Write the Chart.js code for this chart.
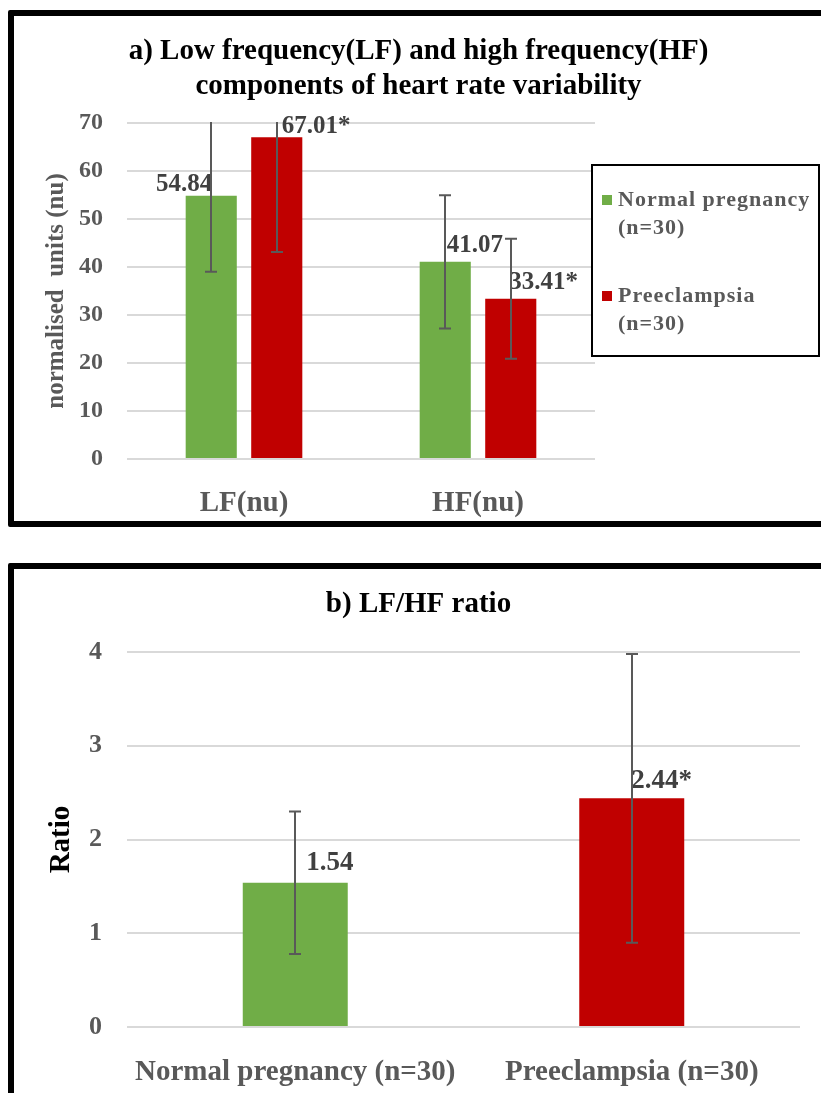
<!DOCTYPE html>
<html>
<head>
<meta charset="utf-8">
<script src="https://cdn.jsdelivr.net/npm/chart.js@4.4.1/dist/chart.umd.min.js"></script>
<style>
  html, body { margin: 0; padding: 0; background: #fff; }
  #page { position: relative; width: 821px; height: 1093px; overflow: hidden; background: #fff; }
  canvas { position: absolute; left: 0; }
  .frame { position: absolute; box-sizing: border-box; border: 6px solid #000; border-radius: 2px; pointer-events: none; }
</style>
</head>
<body>
<div id="page">
  <canvas id="chartA" width="821" height="540" style="top:0px"></canvas>
  <canvas id="chartB" width="821" height="553" style="top:540px"></canvas>
  <div class="frame" style="left:8px; top:10px; width:900px; height:517px;"></div>
  <div class="frame" style="left:8px; top:563px; width:900px; height:600px;"></div>
</div>
<script>
// ---------- data ----------
const titleA = ['a) Low frequency(LF) and high frequency(HF)', 'components of heart rate variability'];
const categoriesA = ['LF(nu)', 'HF(nu)'];
const seriesNames = ['Normal pregnancy (n=30)', 'Preeclampsia (n=30)'];
const normalMeans = [54.84, 41.07];
const normalSD = [15.84, 13.9];
const normalMarks = ['', ''];
const preMeans = [67.01, 33.41];
const preSD = [23.9, 12.5];
const preMarks = ['*', '*'];
const ticksA = [0, 10, 20, 30, 40, 50, 60, 70];
const yTitleA = 'normalised  units (nu)';

const titleB = 'b) LF/HF ratio';
const categoriesB = ['Normal pregnancy (n=30)', 'Preeclampsia (n=30)'];
const ratioMeans = [1.54, 2.44];
const ratioSD = [0.76, 1.54];
const ratioMarks = ['', '*'];
const ticksB = [0, 1, 2, 3, 4];
const yTitleB = 'Ratio';

// ---------- styles ----------
const SERIF = "'Liberation Serif', 'Times New Roman', serif";
const GRAY = '#595959';
const GREEN = '#70ad47';
const RED = '#c00000';
const GRID = '#d9d9d9';
const LABEL = '#404040';

// label placement (style only): offsets from bar top-centre
const labelPosA = [
  [{dx: 1, dy: -11, align: 'right'}, {dx: 1.5, dy: -16, align: 'left'}],
  [{dx: 5, dy: -11, align: 'left'}, {dx: -1.5, dy: -16.5, align: 'left'}]
];
const labelPosB = [[{dx: 11, dy: -20, align: 'left'}, {dx: -0.5, dy: -17, align: 'left'}]];

const barAnnotations = {
  id: 'barAnnotations',
  afterDatasetsDraw(chart, args, opts) {
    const ctx = chart.ctx;
    const ys = chart.scales.y;
    const area = chart.chartArea;
    // value labels
    chart.data.datasets.forEach((ds, i) => {
      const meta = chart.getDatasetMeta(i);
      meta.data.forEach((bar, j) => {
        const p = ds.labelPos[j];
        ctx.save();
        ctx.font = 'bold ' + opts.labelSize + 'px ' + SERIF;
        ctx.fillStyle = LABEL;
        ctx.textAlign = p.align;
        ctx.textBaseline = 'middle';
        ctx.fillText(ds.data[j].toFixed(2) + ds.marks[j], bar.x + p.dx, bar.y + p.dy);
        ctx.restore();
      });
    });
    // error bars
    ctx.save();
    ctx.beginPath();
    ctx.rect(area.left, area.top - 1, area.right - area.left, area.bottom - area.top + 2);
    ctx.clip();
    ctx.strokeStyle = GRAY;
    ctx.lineWidth = 2;
    chart.data.datasets.forEach((ds, i) => {
      const meta = chart.getDatasetMeta(i);
      meta.data.forEach((bar, j) => {
        const v = ds.data[j], sd = ds.sd[j];
        const yt = ys.getPixelForValue(v + sd);
        const yb = ys.getPixelForValue(v - sd);
        const x = Math.round(bar.x) + 0.0;
        ctx.beginPath();
        ctx.moveTo(x, yt); ctx.lineTo(x, yb);
        ctx.moveTo(x - 6, yt); ctx.lineTo(x + 6, yt);
        ctx.moveTo(x - 6, yb); ctx.lineTo(x + 6, yb);
        ctx.stroke();
      });
    });
    ctx.restore();
  }
};

const boxLegend = {
  id: 'boxLegend',
  afterDraw(chart, args, opts) {
    if (!opts.show) return;
    const ctx = chart.ctx;
    const b = opts.box;
    ctx.save();
    ctx.fillStyle = '#fff';
    ctx.fillRect(b.x, b.y, b.w, b.h);
    ctx.strokeStyle = '#000';
    ctx.lineWidth = 2;
    ctx.strokeRect(b.x, b.y, b.w, b.h);
    chart.data.datasets.forEach((ds, i) => {
      const item = opts.items[i];
      ctx.fillStyle = ds.backgroundColor;
      ctx.fillRect(b.x + 10, item.y - 5, 10, 10);
      ctx.fillStyle = GRAY;
      ctx.font = 'bold ' + opts.size + 'px ' + SERIF;
      try { ctx.letterSpacing = '1px'; } catch (e) {}
      ctx.textAlign = 'left';
      ctx.textBaseline = 'middle';
      const lines = ds.label.replace(' (', '\n(').split('\n');
      lines.forEach((ln, k) => ctx.fillText(ln, b.x + 26, item.y + k * opts.lineGap));
    });
    ctx.restore();
  }
};

function tickSetter(values) {
  return (scale) => { scale.ticks = values.map(v => ({value: v})); };
}

new Chart(document.getElementById('chartA'), {
  type: 'bar',
  data: {
    labels: categoriesA,
    datasets: [
      {label: seriesNames[0], data: normalMeans, sd: normalSD, marks: normalMarks, labelPos: labelPosA[0],
       backgroundColor: GREEN, categoryPercentage: 0.56, barPercentage: 0.78},
      {label: seriesNames[1], data: preMeans, sd: preSD, marks: preMarks, labelPos: labelPosA[1],
       backgroundColor: RED, categoryPercentage: 0.56, barPercentage: 0.78}
    ]
  },
  options: {
    responsive: false,
    animation: false,
    layout: {padding: {left: 16, right: 0, top: 0, bottom: 0}},
    plugins: {
      legend: {display: false},
      tooltip: {enabled: false},
      title: {display: true, text: titleA, color: '#000',
        font: {family: SERIF, size: 29, weight: 'bold', lineHeight: '35px'},
        padding: {top: 34.5, bottom: 18.5}},
      barAnnotations: {labelSize: 25},
      boxLegend: {show: true, box: {x: 592, y: 165, w: 227, h: 191}, size: 22, lineGap: 28,
        items: [{y: 200}, {y: 296}]}
    },
    scales: {
      x: {grid: {display: false}, border: {display: false},
        ticks: {color: GRAY, font: {family: SERIF, size: 29, weight: 'bold'}, padding: 19},
        afterFit: (s) => { s.height = 81; }},
      y: {min: 0, max: 70, afterBuildTicks: tickSetter(ticksA),
        ticks: {color: GRAY, font: {family: SERIF, size: 24, weight: 'bold'}, padding: 24},
        grid: {color: GRID, lineWidth: 2, drawTicks: false}, border: {display: false},
        title: {display: true, text: yTitleA, color: GRAY, font: {family: SERIF, size: 25, weight: 'bold'}, padding: {top: 26, bottom: 0}},
        afterFit: (s) => { s.width = 111; }},
      yR: {position: 'right', ticks: {display: false}, grid: {display: false}, border: {display: false},
        afterFit: (s) => { s.width = 226; }}
    }
  },
  plugins: [barAnnotations, boxLegend]
});

new Chart(document.getElementById('chartB'), {
  type: 'bar',
  data: {
    labels: categoriesB,
    datasets: [
      {label: yTitleB, data: ratioMeans, sd: ratioSD, marks: ratioMarks, labelPos: labelPosB[0],
       backgroundColor: [GREEN, RED], categoryPercentage: 1.0, barPercentage: 0.312}
    ]
  },
  options: {
    responsive: false,
    animation: false,
    layout: {padding: {left: 16, right: 0, top: 0, bottom: 0}},
    plugins: {
      legend: {display: false},
      tooltip: {enabled: false},
      title: {display: true, text: titleB, color: '#000',
        font: {family: SERIF, size: 29, weight: 'bold', lineHeight: 1.2},
        padding: {top: 47.6, bottom: 29.6}},
      barAnnotations: {labelSize: 27},
      boxLegend: {show: false}
    },
    scales: {
      x: {grid: {display: false}, border: {display: false},
        ticks: {color: GRAY, font: {family: SERIF, size: 29, weight: 'bold'}, padding: 20.6},
        afterFit: (s) => { s.height = 66; }},
      y: {min: 0, max: 4, afterBuildTicks: tickSetter(ticksB),
        ticks: {color: GRAY, font: {family: SERIF, size: 26, weight: 'bold'}, padding: 25},
        grid: {color: GRID, lineWidth: 2, drawTicks: false}, border: {display: false},
        title: {display: true, text: yTitleB, color: '#000', font: {family: SERIF, size: 29, weight: 'bold'}, padding: {top: 28.6, bottom: 0}},
        afterFit: (s) => { s.width = 111; }},
      yR: {position: 'right', ticks: {display: false}, grid: {display: false}, border: {display: false},
        afterFit: (s) => { s.width = 21; }}
    }
  },
  plugins: [barAnnotations]
});
</script>
</body>
</html>
